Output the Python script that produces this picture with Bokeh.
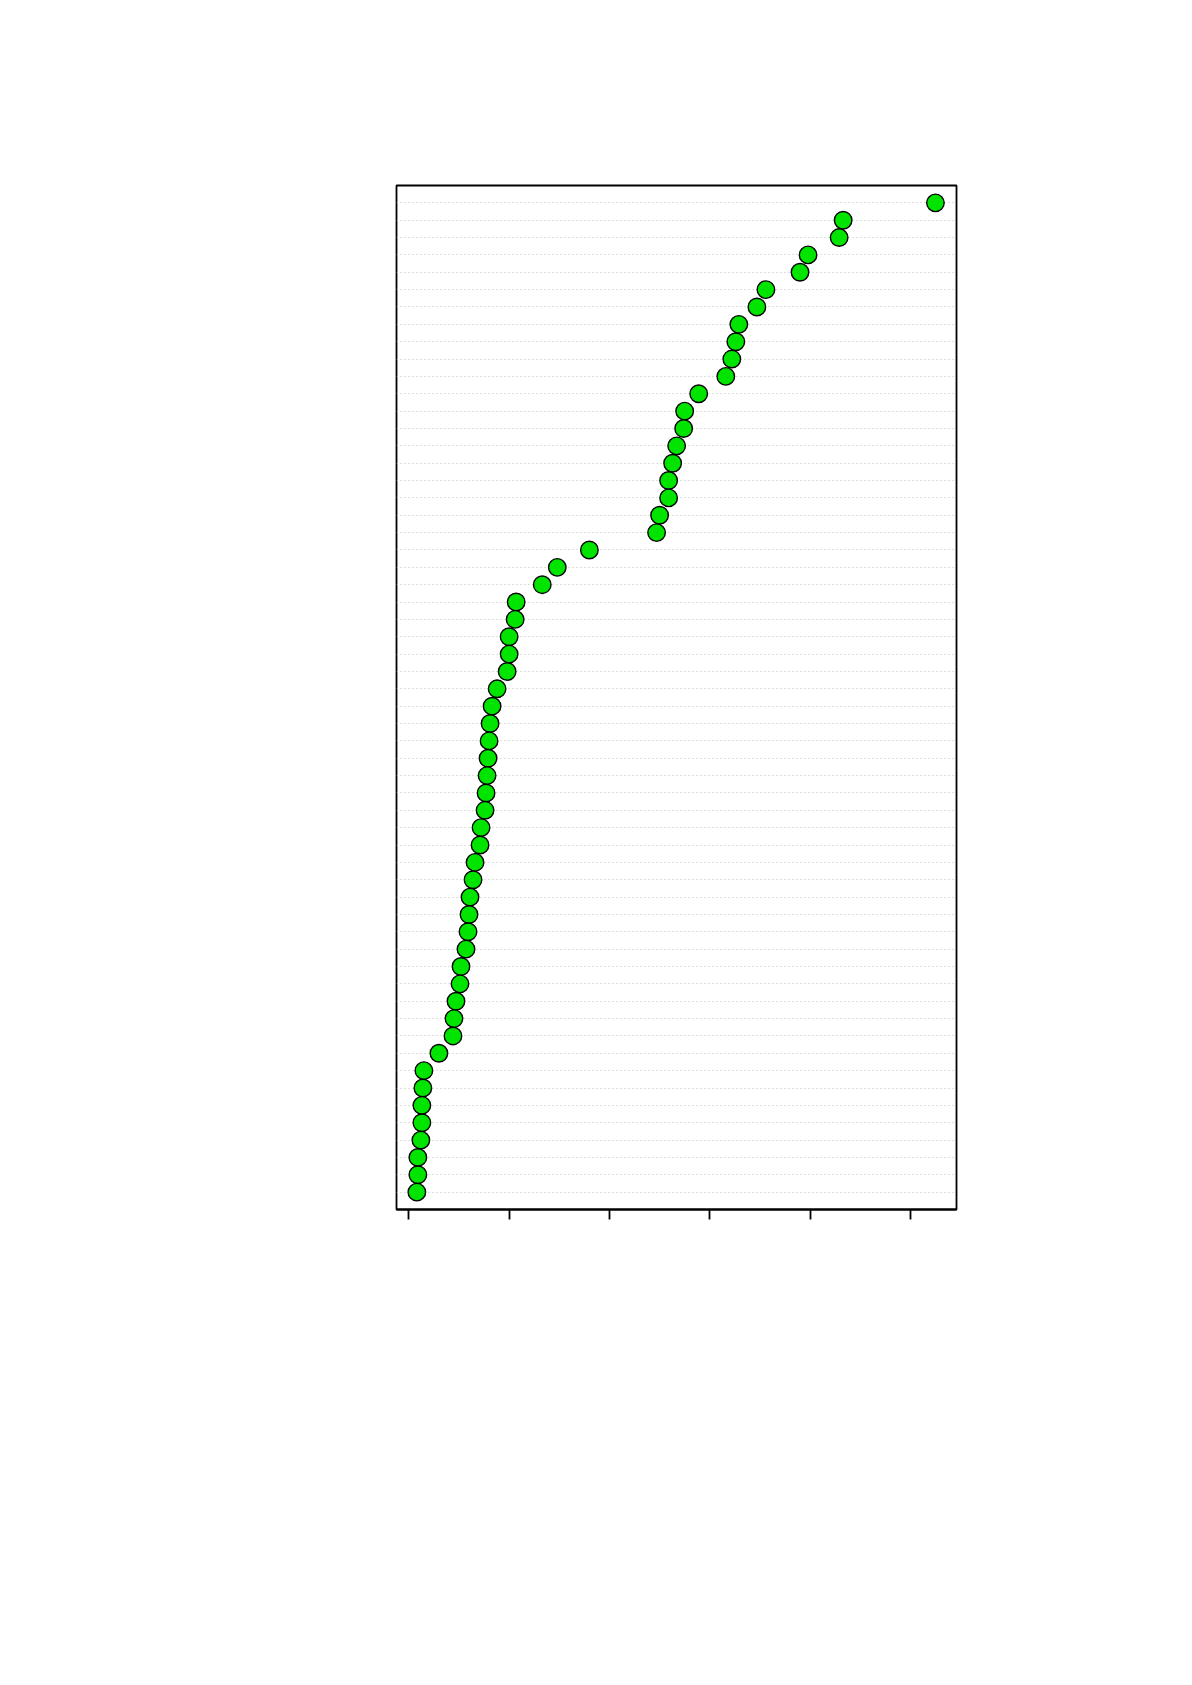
from bokeh.models import ColumnDataSource, FixedTicker
from bokeh.plotting import figure
from bokeh.embed import file_html
from bokeh.resources import INLINE

# dot values, read top row to bottom row
values = [5.25, 4.33, 4.29, 3.98, 3.90, 3.56, 3.47, 3.29, 3.26, 3.22,
          3.16, 2.89, 2.75, 2.74, 2.67, 2.63, 2.59, 2.59, 2.50, 2.47,
          1.80, 1.48, 1.33, 1.07, 1.06, 1.00, 1.00, 0.98, 0.88, 0.83,
          0.81, 0.80, 0.79, 0.78, 0.77, 0.76, 0.72, 0.71, 0.66, 0.64,
          0.61, 0.60, 0.59, 0.57, 0.52, 0.51, 0.47, 0.45, 0.44, 0.30,
          0.15, 0.14, 0.13, 0.13, 0.12, 0.09, 0.09, 0.08]
x_ticks = [0, 1, 2, 3, 4, 5]

n = len(values)
rows = [n - i for i in range(n)]
source = ColumnDataSource(data={'x': values, 'y': rows})

p = figure(x_range=(-0.123, 5.46), y_range=(0, n + 1),
           frame_width=560, frame_height=1024,
           min_border_left=396, min_border_right=220,
           min_border_top=185, min_border_bottom=290,
           output_backend="svg", toolbar_location=None)

p.background_fill_color = "white"
p.border_fill_color = "white"
p.outline_line_color = "black"
p.outline_line_width = 1.8

# dotted row guides
p.xgrid.visible = False
p.ygrid[0].ticker = FixedTicker(ticks=rows)
p.ygrid.grid_line_color = "#bfbfbf"
p.ygrid.grid_line_dash = "1 3"
p.ygrid.grid_line_width = 1

p.yaxis.visible = False
p.xaxis.ticker = FixedTicker(ticks=x_ticks)
p.xaxis.major_label_overrides = {t: "" for t in x_ticks}
p.xaxis.major_tick_out = 10
p.xaxis.major_tick_in = 0
p.xaxis.major_tick_line_color = "black"
p.xaxis.major_tick_line_width = 1.8
p.xaxis.minor_tick_line_color = None
p.xaxis.axis_line_color = "black"
p.xaxis.axis_line_width = 1.8

p.scatter('x', 'y', source=source, size=17.5, fill_color="#00e400",
          line_color="black", line_width=1.4)

open("out.html", "w").write(file_html(p, INLINE))
